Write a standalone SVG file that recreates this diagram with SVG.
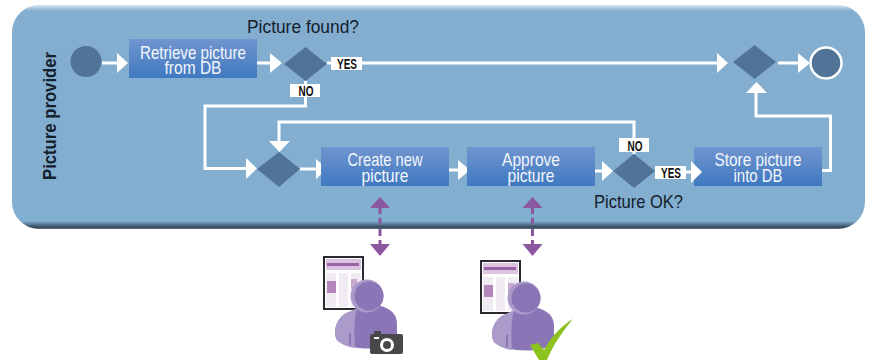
<svg xmlns="http://www.w3.org/2000/svg" width="872" height="360" viewBox="0 0 872 360">
<style>
.box{fill:url(#boxG)}
.dia{fill:#527398}
.t{font-family:"Liberation Sans",Arial,sans-serif;font-size:19px;fill:#f2f6fb;text-anchor:middle}
.q{font-family:"Liberation Sans",Arial,sans-serif;font-size:19px;fill:#14202c}
.lb{font-family:"Liberation Sans",Arial,sans-serif;font-size:14px;font-weight:700;fill:#111;text-anchor:middle}
.w{fill:none;stroke:#fff;stroke-width:3}
.h{fill:#fff}
.p{fill:#8b58a0}
.pl{stroke:#8b58a0;stroke-width:3;stroke-dasharray:7 4;fill:none}
</style>
<defs>
<linearGradient id="boxG" x1="0" y1="0" x2="0" y2="1"><stop offset="0" stop-color="#7195cf"/><stop offset="1" stop-color="#3f79c0"/></linearGradient>
<linearGradient id="panelG" x1="0" y1="0" x2="0" y2="1">
<stop offset="0" stop-color="#dce7f0"/><stop offset=".025" stop-color="#84aed0"/><stop offset=".965" stop-color="#82aed0"/><stop offset=".992" stop-color="#34495c"/><stop offset="1" stop-color="#5d6f7d"/>
</linearGradient>
<g id="doc">
<rect x="1" y="1" width="39" height="52" fill="#fff" stroke="#2b2a2e" stroke-width="2"/>
<rect x="3" y="3" width="35" height="11" fill="#dcc4e0"/>
<rect x="4" y="7" width="32" height="3" fill="#9a60a8"/>
<rect x="3" y="17" width="10" height="34" fill="#f1ebf4"/>
<rect x="16" y="17" width="9" height="34" fill="#f1ebf4"/>
<rect x="28" y="17" width="10" height="34" fill="#f1ebf4"/>
<rect x="4" y="25" width="9" height="12" fill="#b586bd"/>
<rect x="28" y="23" width="6" height="10" fill="#cba8d0"/>
</g>
<g id="person">
<path d="M-30 44C-35 35-30 20-18 16C-10 13-2 10 2 10L14 10C24 13 30 18 30 28L30 46C15 56-20 54-30 44Z" fill="#8a75b6"/>
<path d="M-30 44C-35 35-30 20-18 16C-15 15-13 13-10 12C-13 22-13 38-12 52C-20 51-26 48-30 44Z" fill="#ab9bcb"/>
<path d="M-17 37V49" stroke="#8a75b6" stroke-width="2" fill="none"/>
<circle cx="0" cy="0" r="16.500" fill="#ab9bcb"/>
<circle cx="2" cy="0" r="14.500" fill="#8a75b6"/>
</g>
</defs>
<rect id="panel" x="12" y="5" width="853" height="224" rx="27" ry="27" fill="url(#panelG)"/>
<text class="q" style="font-weight:700" transform="translate(56 180) rotate(-90)" textLength="128" lengthAdjust="spacingAndGlyphs">Picture provider</text>

<g id="connectors">
<path class="w" d="M102 63H118"/><path class="h" d="M117 53L128 63L117 73Z"/>
<path class="w" d="M257 63H272"/><path class="h" d="M270 53L282 63L270 73Z"/>
<path class="w" d="M327 63H719"/><path class="h" d="M717 53L728 63L717 73Z"/>
<path class="w" d="M778 63H799"/><path class="h" d="M798 53L810 63L798 73Z"/>
<path class="w" d="M305.500 81V106H205V168.500H248"/><path class="h" d="M246 158L257 168.500L246 179Z"/>
<path class="w" d="M300 169H318"/><path class="h" d="M316 159L327 169L316 179Z"/>
<path class="w" d="M440 170H459"/><path class="h" d="M458 160L470 170L458 180Z"/>
<path class="w" d="M583 171H603"/><path class="h" d="M602 161L613 171L602 181Z"/>
<path class="w" d="M634 154V122H279V143"/><path class="h" d="M269 141L290 141L279.500 152Z"/>
<path class="w" d="M655 172H692"/>
<path class="w" d="M822 170.500H830.500V116H756V91"/><path class="h" d="M746 93L767 93L756.500 82Z"/>
<path class="pl" d="M380 207V246"/><path class="p" d="M370 208L380 197L390 208Z"/><path class="p" d="M370 244L390 244L380 256Z"/>
<path class="pl" d="M532.500 207V246"/><path class="p" d="M522.500 208L532.500 197L542.500 208Z"/><path class="p" d="M522.500 244L542.500 244L532.500 256Z"/>
</g>

<g id="start"><circle cx="86" cy="61.500" r="15.500" fill="#527398"/></g>
<g id="retrieve"><rect class="box" x="129" y="39" width="128" height="39"/>
<text class="t"><tspan x="193" y="58.500" textLength="106" lengthAdjust="spacingAndGlyphs">Retrieve picture</tspan><tspan x="193" y="74" textLength="57" lengthAdjust="spacingAndGlyphs">from DB</tspan></text></g>
<g id="dec-found"><path class="dia" d="M284 64L305.500 47L327 64L305.500 81Z"/>
<text class="q" x="247" y="32.500" textLength="112" lengthAdjust="spacingAndGlyphs">Picture found?</text></g>
<g id="yes1"><rect x="331" y="57" width="31" height="13" fill="#fff"/><text class="lb" x="347" y="68.500" textLength="20" lengthAdjust="spacingAndGlyphs">YES</text></g>
<g id="no1"><rect x="290" y="84" width="30" height="13" fill="#fff"/><text class="lb" x="306" y="95.500" textLength="15" lengthAdjust="spacingAndGlyphs">NO</text></g>
<g id="dec-end"><path class="dia" d="M733 62L754.500 45L776 62L754.500 79Z"/></g>
<g id="end"><circle cx="826" cy="63" r="15.500" fill="#527398" stroke="#fff" stroke-width="2.500"/></g>
<g id="dec-merge"><path class="dia" d="M257 169L279 152L300 169L279 187Z"/></g>
<g id="create"><rect class="box" x="321" y="147" width="128" height="39"/>
<text class="t"><tspan x="385" y="166" textLength="75" lengthAdjust="spacingAndGlyphs">Create new</tspan><tspan x="385" y="182" textLength="47" lengthAdjust="spacingAndGlyphs">picture</tspan></text></g>
<g id="approve"><rect class="box" x="467" y="147" width="128" height="39"/>
<text class="t"><tspan x="531" y="166" textLength="58" lengthAdjust="spacingAndGlyphs">Approve</tspan><tspan x="531" y="182" textLength="47" lengthAdjust="spacingAndGlyphs">picture</tspan></text></g>
<g id="dec-ok"><path class="dia" d="M613 171L634 154L655 171L634 188Z"/>
<text class="q" x="594" y="208" textLength="89" lengthAdjust="spacingAndGlyphs">Picture OK?</text></g>
<g id="no2"><rect x="619" y="138" width="30" height="14" fill="#fff"/><text class="lb" x="635" y="150.500" textLength="15" lengthAdjust="spacingAndGlyphs">NO</text></g>
<g id="yes2"><rect x="655" y="166" width="31" height="13" fill="#fff"/><text class="lb" x="671" y="177.500" textLength="20" lengthAdjust="spacingAndGlyphs">YES</text></g>
<g id="store"><rect class="box" x="694" y="147" width="128" height="39"/>
<path class="h" d="M691 161L702 172L691 183Z"/>
<text class="t"><tspan x="758" y="166" textLength="87" lengthAdjust="spacingAndGlyphs">Store picture</tspan><tspan x="758" y="182" textLength="49" lengthAdjust="spacingAndGlyphs">into DB</tspan></text></g>

<g id="actor-photo">
<use href="#doc" x="323" y="256"/>
<use href="#person" x="367" y="296"/>
<path d="M374 331h7v3h20a2 2 0 0 1 2 2v16a2 2 0 0 1-2 2h-29a2 2 0 0 1-2-2v-16a2 2 0 0 1 2-2h2Z" fill="#48484a"/>
<circle cx="387" cy="345" r="5.500" fill="none" stroke="#fff" stroke-width="3"/>
<rect x="374" y="337" width="5" height="2" fill="#fff"/>
</g>
<g id="actor-approve">
<use href="#doc" x="480" y="260"/>
<use href="#person" x="524" y="298"/>
<path d="M530 345L538 343L544 350C551 337 561 326 573 319C563 331 553 345 547 360L539 360Z" fill="#8dc21f"/>
</g>
</svg>
